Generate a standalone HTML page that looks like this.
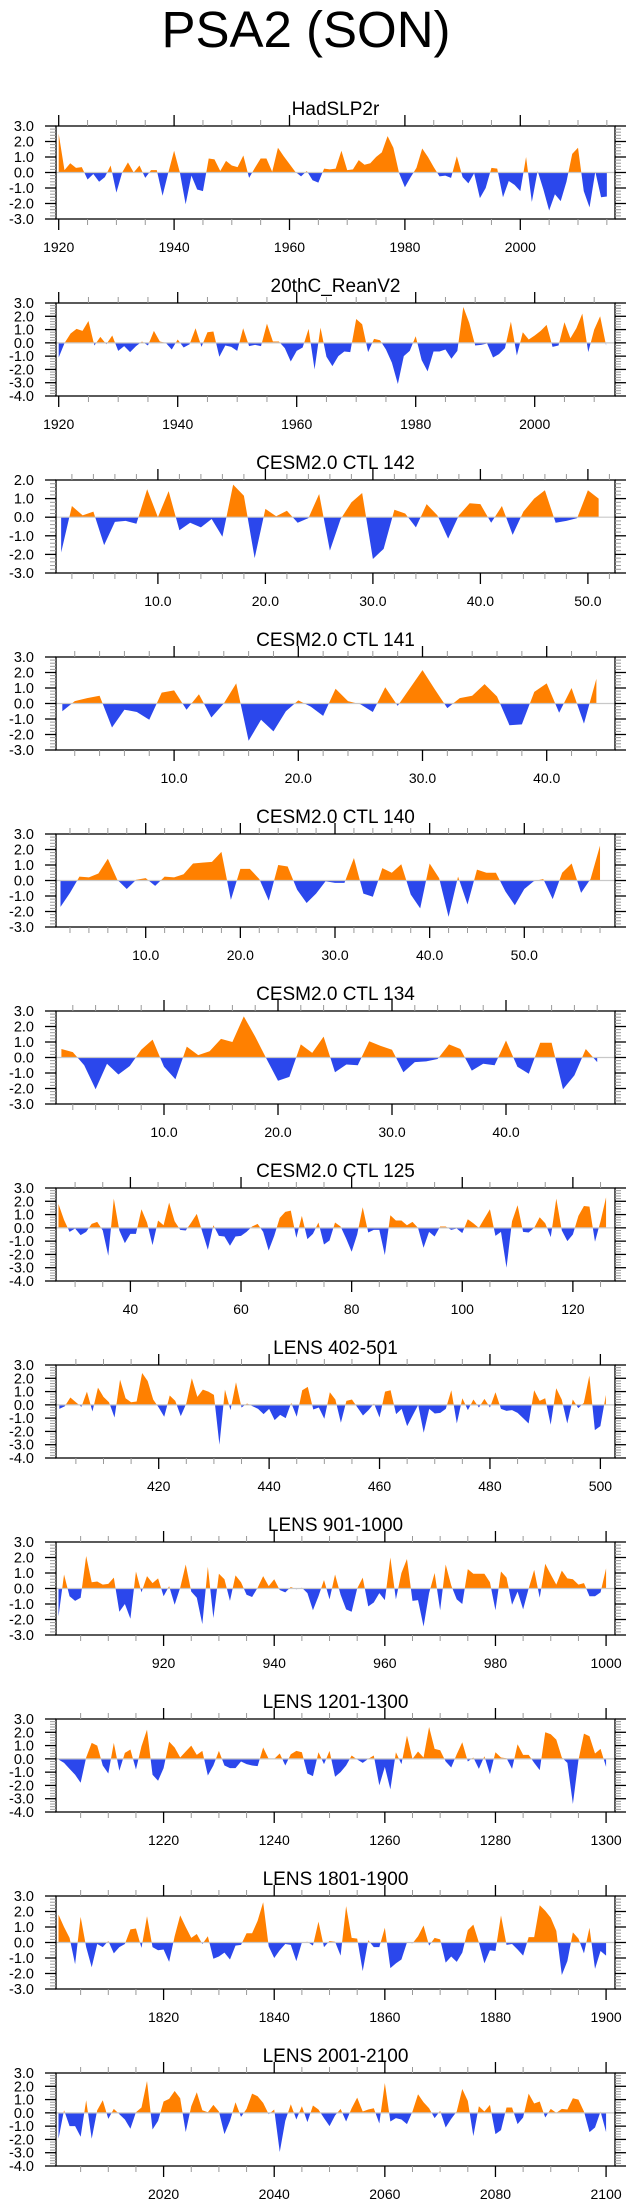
<!DOCTYPE html>
<html><head><meta charset="utf-8"><style>
html,body{margin:0;padding:0;background:#fff}
svg{display:block;font-family:"Liberation Sans",Arial,sans-serif}
</style></head><body>
<svg id="chart" width="635" height="2208" viewBox="0 0 635 2208" xmlns="http://www.w3.org/2000/svg">
<text x="306" y="47" font-size="51" text-anchor="middle" fill="#000">PSA2 (SON)</text>
</svg>
<script>
// ---- data ----
const titles = ["HadSLP2r","20thC_ReanV2","CESM2.0 CTL 142","CESM2.0 CTL 141","CESM2.0 CTL 140","CESM2.0 CTL 134","CESM2.0 CTL 125","LENS 402-501","LENS 901-1000","LENS 1201-1300","LENS 1801-1900","LENS 2001-2100"];
const xStarts = [1920,1920,1,1,1,1,27,402,901,1201,1801,2001];
const yMaxs = [3,3,2,3,3,3,3,3,3,3,3,3];
const yMins = [-3,-4,-3,-3,-3,-3,-4,-4,-3,-4,-3,-4];
const majorTicks = [
 [1920,1940,1960,1980,2000],[1920,1940,1960,1980,2000],
 [10,20,30,40,50],[10,20,30,40],[10,20,30,40,50],[10,20,30,40],
 [40,60,80,100,120],[420,440,460,480,500],[920,940,960,980,1000],
 [1220,1240,1260,1280,1300],[1820,1840,1860,1880,1900],[2020,2040,2060,2080,2100]];
const tickLabels = [
 ["1920","1940","1960","1980","2000"],["1920","1940","1960","1980","2000"],
 ["10.0","20.0","30.0","40.0","50.0"],["10.0","20.0","30.0","40.0"],["10.0","20.0","30.0","40.0","50.0"],["10.0","20.0","30.0","40.0"],
 ["40","60","80","100","120"],["420","440","460","480","500"],["920","940","960","980","1000"],
 ["1220","1240","1260","1280","1300"],["1820","1840","1860","1880","1900"],["2020","2040","2060","2080","2100"]];
const minorSteps = [5,5,2,2,2,2,5,5,5,5,5,5];

const had = [2.5,0.15,0.6,0.3,0.35,-0.45,-0.1,-0.6,-0.3,0.45,
-1.3,0.0,0.65,0.0,0.45,-0.35,0.15,0.15,-1.5,0.0,
1.4,0.0,-2.05,-0.2,-1.1,-1.2,0.9,0.85,0.1,0.75,
0.45,0.35,1.1,-0.35,0.3,0.9,0.9,0.05,1.6,1.05,
0.55,0.05,-0.25,0.1,-0.5,-0.65,0.25,0.2,0.25,1.4,
0.15,0.2,0.8,0.5,0.6,1.0,1.3,2.35,1.6,-0.05,
-0.95,-0.3,0.3,1.55,1.0,0.35,-0.25,-0.2,-0.35,1.05,
-0.3,-0.7,-0.05,-1.65,-1.0,0.3,0.25,-1.6,-0.55,-0.8,
-1.2,1.0,-1.9,0.1,-1.1,-2.45,-1.4,-1.85,-0.6,1.2,
1.6,-1.2,-2.25,0.05,-1.6,-1.55];
const rean = [-1.1,0.0,0.7,1.05,0.9,1.65,-0.2,0.45,-0.1,0.55,
-0.6,-0.25,-0.7,-0.25,0.1,-0.2,0.9,0.1,0.0,-0.5,
0.25,-0.35,-0.1,1.1,-0.3,0.8,0.85,-1.05,-0.2,-0.3,
-0.6,1.1,-0.25,-0.15,-0.25,1.45,0.1,0.1,-0.4,-1.4,
-0.6,-0.35,1.05,-2.0,1.15,-1.05,-1.75,-1.0,-0.65,-0.7,
1.8,1.4,-0.7,0.3,0.2,-0.5,-1.5,-3.1,-1.0,-0.6,
0.5,-1.3,-2.15,-0.65,-0.65,-0.5,-1.2,-0.6,2.7,1.5,
-0.2,-0.15,-0.05,-1.1,-0.85,-0.4,1.6,-0.95,0.8,0.25,
0.55,0.9,1.35,-0.3,-0.2,1.55,0.35,1.1,2.2,-0.7,
1.0,2.0,-0.2];
const ctl142 = [-1.9,0.6,0.1,0.3,-1.5,-0.25,-0.2,-0.35,1.5,0.0,
1.4,-0.7,-0.3,-0.55,-0.1,-1.05,1.75,1.15,-2.2,0.45,
0.05,0.35,-0.3,-0.05,1.25,-1.8,-0.1,0.8,1.3,-2.25,
-1.7,0.4,0.2,-0.55,0.7,0.1,-1.15,0.1,0.75,0.7,
-0.3,0.6,-0.95,0.3,1.0,1.45,-0.3,-0.2,-0.05,1.45,1.0];
const ctl141 = [-0.5,0.15,0.35,0.5,-1.55,-0.4,-0.55,-1.05,0.7,0.85,
-0.4,0.6,-0.9,0.0,1.3,-2.4,-1.05,-1.8,-0.5,0.2,
-0.2,-0.8,0.95,0.15,-0.05,-0.55,1.05,-0.15,1.0,2.15,
0.9,-0.3,0.35,0.5,1.25,0.45,-1.4,-1.35,0.75,1.3,
-0.6,1.0,-1.3,1.6];
const ctl140 = [-1.7,-0.8,0.25,0.2,0.45,1.4,0.05,-0.55,0.05,0.15,
-0.35,0.25,0.2,0.4,1.1,1.15,1.2,1.85,-1.25,0.75,
0.75,0.1,-1.3,1.0,0.9,-0.6,-1.45,-0.85,-0.05,-0.15,
-0.15,1.45,-0.85,-1.05,0.8,0.5,1.05,-0.9,-1.8,1.1,
0.15,-2.35,0.25,-1.55,0.7,0.5,0.5,-0.7,-1.6,-0.55,
-0.05,0.1,-1.2,0.5,1.1,-0.8,0.1,2.25];
const ctl134 = [0.55,0.35,-0.5,-2.05,-0.4,-1.1,-0.55,0.5,1.15,-0.6,
-1.4,0.7,0.15,0.4,1.2,1.0,2.65,1.35,-0.1,-1.5,
-1.25,0.85,0.3,1.35,-0.95,-0.45,-0.5,1.05,0.75,0.5,
-0.95,-0.3,-0.25,-0.1,0.85,0.55,-0.85,-0.4,-0.5,1.1,
-0.6,-1.05,0.95,0.95,-2.05,-1.15,0.55,-0.3];
const ctl125 = [1.8,0.6,-0.3,-0.05,-0.55,-0.3,0.3,0.45,-0.2,-2.1,
2.2,-0.2,-1.15,-0.45,-0.45,1.4,0.4,-1.3,0.55,0.2,
1.9,0.5,-0.15,-0.2,0.4,1.05,-0.3,-1.65,0.2,-0.6,
-0.65,-1.35,-0.65,-0.6,-0.3,0.1,0.3,-0.3,-1.7,-0.6,
0.75,1.2,1.3,-0.75,0.9,-0.85,-0.45,0.4,-1.25,-0.95,
0.4,0.1,-0.8,-1.8,-0.5,1.55,-0.35,-0.15,-0.15,-2.05,
0.95,0.55,0.55,0.2,0.45,0.0,-1.5,-0.3,-0.65,0.1,
0.1,-0.15,-0.05,-0.4,0.65,0.35,0.0,0.7,1.4,-0.6,
-0.3,-3.0,0.5,1.7,-0.3,-0.35,0.0,0.8,0.35,-0.7,
2.2,-0.2,-1.0,-0.5,0.9,1.65,1.6,-1.05,0.5,2.3];
const lens402 = [-0.3,-0.1,0.55,0.2,-0.15,1.0,-0.5,1.3,0.6,0.2,
-0.95,1.9,0.5,0.2,0.25,2.4,1.8,0.4,-0.2,-0.9,
0.7,0.3,-0.85,0.1,2.0,0.6,1.15,1.0,0.75,-3.0,
1.15,-0.4,1.7,-0.2,0.1,-0.1,-0.3,-0.7,-0.3,-1.15,
-0.75,-1.0,0.15,-0.9,1.1,1.35,-0.35,-0.2,-1.05,0.95,
0.4,-1.35,0.3,0.4,-0.2,-0.8,-0.4,0.1,-0.95,1.0,
1.1,-0.7,-0.3,-1.6,-0.8,0.0,-2.1,-0.3,-0.65,-0.6,
-0.3,1.1,-1.4,0.5,-0.4,0.4,-0.2,0.45,-0.2,0.95,
-0.3,-0.45,-0.4,-0.6,-1.0,-1.4,1.1,0.3,0.5,-1.5,
1.25,0.4,-1.4,0.4,-0.25,0.15,2.2,-1.9,-1.6,0.75];
const lens901 = [-1.8,0.9,-0.5,-0.8,-0.6,2.1,0.4,0.45,0.25,0.3,
0.7,-1.5,-1.0,-1.95,1.1,-0.25,0.8,0.35,0.65,-0.5,
0.15,-1.05,0.05,1.55,-0.2,-0.6,-2.3,1.4,-1.9,0.95,
0.6,-0.8,0.85,0.4,-0.4,-0.55,0.05,0.8,0.15,0.6,
-0.1,-0.25,0.1,-0.05,0.05,-0.3,-1.4,-0.5,0.55,-0.7,
0.9,-0.4,-1.35,-1.5,0.0,0.7,-1.15,-0.9,-0.3,-0.75,
2.0,-0.7,1.0,1.9,-0.8,-0.75,-2.45,-0.3,1.0,-1.4,
1.55,0.2,-0.7,-1.0,1.25,0.95,0.95,0.95,0.4,-1.4,
1.1,0.7,-1.05,-0.2,-1.35,0.0,1.2,-0.6,1.6,0.9,
0.25,1.15,0.65,0.6,0.25,0.35,-0.5,-0.5,-0.25,1.3];
const lens1201 = [-0.05,-0.3,-0.75,-1.2,-1.8,0.1,1.2,1.0,-0.5,-1.1,
1.2,-0.9,0.45,0.7,-0.8,0.95,2.2,-1.2,-1.65,-0.7,
1.3,0.85,0.1,0.55,1.0,0.3,0.6,-1.25,-0.5,0.6,
-0.5,-0.7,-0.7,-0.2,-0.4,-0.5,-0.55,0.85,0.0,0.0,
0.4,-0.5,0.35,0.6,0.5,-1.1,-1.3,0.5,-0.4,0.6,
-1.35,-1.0,-0.5,0.25,-0.05,-0.3,0.0,0.25,-2.0,-0.6,
-2.3,0.5,-0.4,1.75,0.0,0.55,0.1,2.4,0.75,0.65,
-0.2,-0.65,0.35,1.25,-0.2,0.1,-0.75,0.2,-1.15,0.5,
0.1,0.05,-0.75,1.1,0.3,0.3,-0.3,-0.85,2.0,1.85,
1.45,0.1,-0.3,-3.4,-0.1,1.9,1.7,0.4,0.75,-0.6];
const lens1801 = [1.8,1.0,0.3,-1.4,1.65,-0.3,-1.6,-0.1,-0.3,0.1,
-0.7,-0.3,-0.1,0.85,0.9,-0.35,1.7,-0.3,-0.5,-0.45,
-1.25,0.4,1.75,1.0,0.3,0.55,-0.1,0.4,-1.05,-0.9,
-0.65,-1.1,-0.2,-0.15,0.6,0.6,1.4,2.6,-0.25,-1.0,
-0.5,-0.1,-0.15,-1.2,0.0,0.05,-0.2,1.35,-0.3,0.1,
0.05,-0.85,2.35,0.3,0.25,-1.85,0.15,-0.3,-0.3,0.95,
-1.65,-1.35,-1.1,0.0,-0.05,0.4,1.1,-0.2,0.3,0.2,
-1.3,-0.9,-1.25,-0.65,0.8,1.15,0.0,-1.35,-0.5,-0.55,
1.75,-0.15,-0.1,-0.45,-0.85,0.35,0.35,2.4,2.05,1.6,
0.75,-2.1,-1.2,0.65,0.25,-0.7,0.95,-1.7,-0.55,-0.85];
const lens2001 = [-1.95,0.2,-1.0,-1.0,-1.8,0.95,-1.95,0.2,0.95,-0.45,
0.3,-0.1,-0.5,-1.2,0.05,0.4,2.4,-1.25,-0.6,0.85,
1.05,1.65,1.1,-1.45,0.5,1.55,0.2,0.05,0.6,0.1,
-1.6,-0.6,0.8,-0.3,0.3,1.45,1.25,0.75,-0.1,0.25,
-2.95,-0.6,0.65,-0.5,0.5,-0.7,0.55,0.25,-0.4,-1.0,
-0.2,0.3,-0.65,0.35,1.15,0.1,0.25,0.35,-0.8,2.25,
-0.65,-0.4,-0.5,-0.85,0.1,1.4,0.8,0.35,-0.4,0.15,
-1.1,-0.45,0.1,1.8,0.9,-1.75,0.5,0.1,0.6,-1.6,
-1.3,0.4,0.4,-0.85,-0.35,1.45,0.7,0.85,-0.35,0.3,
0.0,0.3,0.25,1.1,1.0,0.1,-1.45,-1.1,0.1,-1.45];
const series = [had,rean,ctl142,ctl141,ctl140,ctl134,ctl125,lens402,lens901,lens1201,lens1801,lens2001];

// ---- layout (pixel calibration, not data) ----
const FL = 56, FR = 615, FH = 93, TOP0 = 126, STEP = 177;
// pixel position of the first labelled tick and px per unit for each panel
const calPx = [58.7,58.7,157.9,174.1,145.7,164.0,130.4,158.7,163.6,163.6,163.6,163.6];
const calPpu = [5.77,5.95,10.75,12.42,9.465,11.40,5.531,5.521,5.531,5.531,5.531,5.531];

const NS = "http://www.w3.org/2000/svg";
const svg = document.getElementById("chart");
function mk(tag, attrs, parent){ const e=document.createElementNS(NS,tag); for(const k in attrs) e.setAttribute(k,attrs[k]); (parent||svg).appendChild(e); return e; }

const defs = mk("defs",{});
titles.forEach((t,i)=>{
  const T = TOP0 + i*STEP, B = T+FH;
  const ymax=yMaxs[i], ymin=yMins[i];
  const xmin = majorTicks[i][0] - (calPx[i]-FL)/calPpu[i];
  const xmax = majorTicks[i][0] + (FR-calPx[i])/calPpu[i];
  const xs = v => FL + (v - xmin)/(xmax-xmin)*(FR-FL);
  const ys = v => T + (ymax - v)/(ymax-ymin)*FH;
  const g = mk("g",{});
  
  

  const tt = mk("text",{x:(FL+FR)/2, y:T-11, "font-size":19, "text-anchor":"middle"}, g);
  tt.textContent = t;
  
  

  // clips
  const y0 = ys(0);
  const cu = mk("clipPath",{id:"cu"+i},defs); mk("rect",{x:FL,y:T,width:FR-FL,height:y0-T},cu);
  const cd = mk("clipPath",{id:"cd"+i},defs); mk("rect",{x:FL,y:y0,width:FR-FL,height:B-y0},cd);

  const data = series[i];
  let d = "M"+xs(xStarts[i]).toFixed(2)+","+y0.toFixed(2);
  data.forEach((v,k)=>{ d += " L"+xs(xStarts[i]+k).toFixed(2)+","+ys(v).toFixed(2); });
  d += " L"+xs(xStarts[i]+data.length-1).toFixed(2)+","+y0.toFixed(2)+" Z";
  const up = mk("path",{d:d, fill:"#ff8000", "clip-path":"url(#cu"+i+")"}, g);
  
  
  const dn = mk("path",{d:d, fill:"#2b47ec", "clip-path":"url(#cd"+i+")"}, g);
  
  

  const zl = mk("line",{x1:FL,x2:FR,y1:y0,y2:y0,stroke:"#c8c8c8","stroke-width":1.2}, g);
  
  

  const fr = mk("rect",{x:FL,y:T,width:FR-FL,height:FH,fill:"none",stroke:"#000","stroke-width":1.3}, g);
  
  

  // x ticks
  const st = minorSteps[i];
  const first = Math.ceil(xmin/st)*st;
  for(let v=first; v<=xmax; v+=st){
    const px = xs(v);
    const major = majorTicks[i].includes(v);
    const L = major?11:6;
    mk("line",{x1:px,x2:px,y1:T,y2:T-L,stroke:major?"#000":"#999","stroke-width":major?1.3:1}, g);
    mk("line",{x1:px,x2:px,y1:B,y2:B+L,stroke:major?"#000":"#999","stroke-width":major?1.3:1}, g);
  }
  majorTicks[i].forEach((v,k)=>{
    const lb = mk("text",{x:xs(v), y:B+33, "font-size":14, "text-anchor":"middle"}, g);
    lb.textContent = tickLabels[i][k];
    
    
  });
  // y ticks
  for(let n=Math.round(ymin*5); n<=Math.round(ymax*5); n++){
    const v=n/5, py=ys(v), major = n%5===0, L = major?11:6;
    mk("line",{x1:FL,x2:FL-L,y1:py,y2:py,stroke:major?"#000":"#999","stroke-width":major?1.3:1}, g);
    mk("line",{x1:FR,x2:FR+L,y1:py,y2:py,stroke:major?"#000":"#999","stroke-width":major?1.3:1}, g);
    if(major){
      const lb = mk("text",{x:34, y:py+5, "font-size":14.5, "text-anchor":"end"}, g);
      lb.textContent = v.toFixed(1);
      
      
    }
  }
});
</script>
</body></html>
